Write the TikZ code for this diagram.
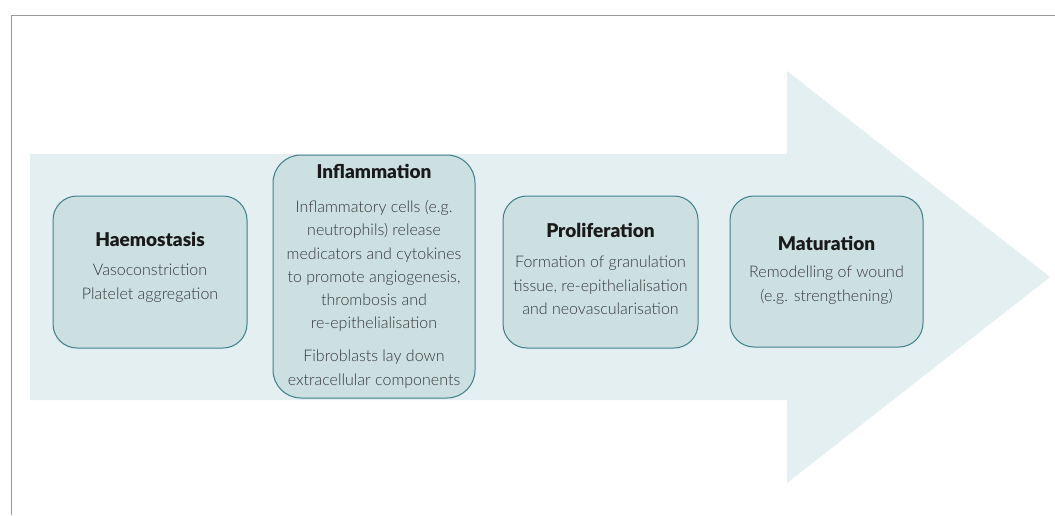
\documentclass[tikz,border=0pt]{standalone}
\usepackage{fontspec}
\setmainfont{Lato}
\newfontfamily\heavyfont{Lato Black}
\newfontfamily\lightfont{Lato Light}
\definecolor{arrowfill}{HTML}{E3EFF0}
\definecolor{boxfill}{HTML}{CCE0E1}
\definecolor{boxline}{HTML}{3F7F8B}
\definecolor{framegray}{HTML}{9A9A9A}
\definecolor{bodytext}{HTML}{363636}
\definecolor{titletext}{HTML}{1A1A1A}
\tikzset{
  phasebox/.style={draw=boxline, line width=1pt, fill=boxfill, rounded corners=24pt, inner sep=0pt},
  phasetitle/.style={font=\fontsize{19}{22}\selectfont\heavyfont, text=titletext, inner sep=0pt},
  phasetext/.style={font=\fontsize{16}{23.3}\selectfont\lightfont, text=bodytext, align=center, inner sep=0pt},
}
\begin{document}
\begin{tikzpicture}[x=1pt,y=-1pt]
\useasboundingbox (0,0) rectangle (1055,515);
% page frame (top and left rules)
\draw[framegray, line width=1pt] (11.5,515) -- (11.5,15) -- (1055,15);
% large background arrow
\fill[arrowfill] (30,154) -- (787,154) -- (787,71) -- (1050,277) -- (787,483) -- (787,400) -- (30,400) -- cycle;
% phase boxes
\node[phasebox, minimum width=194pt, minimum height=152pt] (haem) at (150,272) {};
\node[phasebox, minimum width=202pt, minimum height=243pt, rounded corners=28pt] (infl) at (374,276.5) {};
\node[phasebox, minimum width=195pt, minimum height=152pt] (prol) at (600.5,272) {};
\node[phasebox, minimum width=193pt, minimum height=151pt] (matu) at (826.5,271.5) {};
% Haemostasis
\node[phasetitle] (haemT) at (150,239) {Haemostasis};
\node[phasetext, anchor=north] (haemB) at (150,264) {Vasoconstriction\\Platelet aggregation};
% Inflammation
\node[phasetitle] (inflT) at (374,171) {Inflammation};
\node[phasetext, anchor=north] (inflB) at (374,200) {Inflammatory cells (e.g.\\neutrophils) release\\medicators and cytokines\\to promote angiogenesis,\\thrombosis and\\re-epithelialisation};
\node[phasetext, anchor=north] (inflC) at (374,350) {Fibroblasts lay down\\extracellular components};
% Proliferation
\node[phasetitle] (prolT) at (600.5,230) {Proliferation};
\node[phasetext, anchor=north] (prolB) at (600.5,256) {Formation of granulation\\tissue, re-epithelialisation\\and neovascularisation};
% Maturation
\node[phasetitle] (matuT) at (826.5,243) {Maturation};
\node[phasetext, anchor=north] (matuB) at (826.5,266) {Remodelling of wound\\(e.g. strengthening)};
\end{tikzpicture}
\end{document}
